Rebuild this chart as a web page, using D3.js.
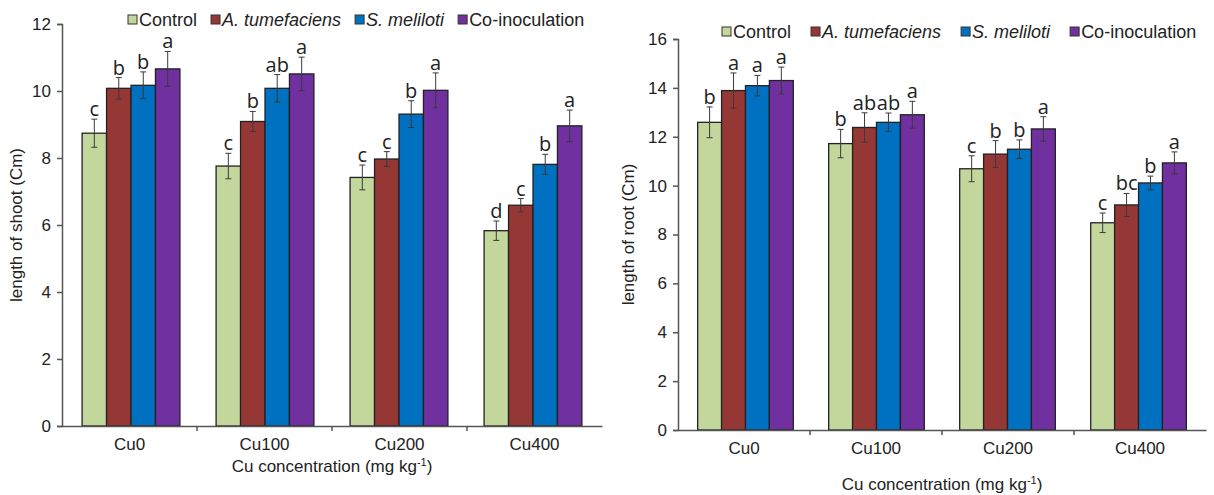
<!DOCTYPE html>
<html>
<head>
<meta charset="utf-8">
<script src="https://cdn.jsdelivr.net/npm/d3@7"></script>
<style>
  body { margin: 0; background: #fff; }
  text { font-family: "Liberation Sans", Arial, sans-serif; fill: #222; }
  .sig { font-family: "Open Sans", "Noto Sans", sans-serif; }
</style>
</head>
<body>
<svg id="chart" width="1214" height="495"></svg>
<script>
  var groups = ["Cu0", "Cu100", "Cu200", "Cu400"];
  var seriesNames = ["Control", "A. tumefaciens", "S. meliloti", "Co-inoculation"];
  var seriesItalic = [false, true, true, false];
  var colors = ["#c3d69b", "#953735", "#0070c0", "#7030a0"];

  // shoot length (left)
  var shootControl = [8.74, 7.76, 7.42, 5.83];
  var shootAtum    = [10.08, 9.09, 7.97, 6.59];
  var shootSmel    = [10.17, 10.08, 9.31, 7.81];
  var shootCo      = [10.66, 10.51, 10.02, 8.96];
  var shootControlErr = [0.42, 0.38, 0.37, 0.29];
  var shootAtumErr    = [0.32, 0.30, 0.22, 0.20];
  var shootSmelErr    = [0.40, 0.41, 0.40, 0.30];
  var shootCoErr      = [0.52, 0.50, 0.52, 0.47];
  var shootControlSig = ["c", "c", "c", "d"];
  var shootAtumSig    = ["b", "b", "c", "c"];
  var shootSmelSig    = ["b", "ab", "b", "b"];
  var shootCoSig      = ["a", "a", "a", "a"];
  var shootTicks = [0, 2, 4, 6, 8, 10, 12];

  // root length (right)
  var rootControl = [12.59, 11.72, 10.69, 8.48];
  var rootAtum    = [13.89, 12.38, 11.29, 9.21];
  var rootSmel    = [14.09, 12.59, 11.49, 10.11];
  var rootCo      = [14.30, 12.90, 12.32, 10.93];
  var rootControlErr = [0.63, 0.58, 0.53, 0.40];
  var rootAtumErr    = [0.72, 0.60, 0.55, 0.47];
  var rootSmelErr    = [0.42, 0.38, 0.38, 0.28];
  var rootCoErr      = [0.55, 0.55, 0.50, 0.45];
  var rootControlSig = ["b", "b", "c", "c"];
  var rootAtumSig    = ["a", "ab", "b", "bc"];
  var rootSmelSig    = ["a", "ab", "b", "b"];
  var rootCoSig      = ["a", "a", "a", "a"];
  var rootTicks = [0, 2, 4, 6, 8, 10, 12, 14, 16];

  var svg = d3.select("#chart");

  function buildRows(vals, errs, sigs) {
    var rows = [];
    groups.forEach(function(g, gi) {
      seriesNames.forEach(function(s, si) {
        rows.push({ group: g, series: s, si: si, value: vals[si][gi], err: errs[si][gi], sig: sigs[si][gi] });
      });
    });
    return rows;
  }

  function drawPanel(p) {
    var g = svg.append("g");
    var x = d3.scaleBand().domain(groups).range([p.left, p.right]).paddingInner(0.27).paddingOuter(0.15);
    var xOuter = d3.scaleBand().domain(groups).range([p.left, p.right]);
    var xs = d3.scaleBand().domain(seriesNames).range([0, x.bandwidth()]);
    var y = d3.scaleLinear().domain([0, p.max]).range([p.bottom, p.top]);

    var rows = buildRows(p.vals, p.errs, p.sigs);

    g.selectAll("rect.bar").data(rows).enter().append("rect")
      .attr("class", "bar")
      .attr("x", function(d) { return x(d.group) + xs(d.series); })
      .attr("y", function(d) { return y(d.value); })
      .attr("width", xs.bandwidth())
      .attr("height", function(d) { return y(0) - y(d.value); })
      .attr("fill", function(d) { return colors[d.si]; })
      .attr("stroke", "#222")
      .attr("stroke-width", 1.3);

    // error bars
    var eb = g.selectAll("g.err").data(rows).enter().append("g").attr("class", "err")
      .attr("stroke", "#3a3a3a").attr("stroke-width", 1);
    eb.append("line")
      .attr("x1", function(d) { return x(d.group) + xs(d.series) + xs.bandwidth() / 2; })
      .attr("x2", function(d) { return x(d.group) + xs(d.series) + xs.bandwidth() / 2; })
      .attr("y1", function(d) { return y(d.value - d.err); })
      .attr("y2", function(d) { return y(d.value + d.err); });
    [1, -1].forEach(function(sgn) {
      eb.append("line")
        .attr("x1", function(d) { return x(d.group) + xs(d.series) + xs.bandwidth() / 2 - 3; })
        .attr("x2", function(d) { return x(d.group) + xs(d.series) + xs.bandwidth() / 2 + 3; })
        .attr("y1", function(d) { return y(d.value + sgn * d.err); })
        .attr("y2", function(d) { return y(d.value + sgn * d.err); });
    });

    g.selectAll("text.sig").data(rows).enter().append("text")
      .attr("class", "sig")
      .attr("x", function(d) { return x(d.group) + xs(d.series) + xs.bandwidth() / 2; })
      .attr("y", function(d) { return y(d.value + d.err) - 3; })
      .attr("text-anchor", "middle")
      .style("font-size", "20px")
      .text(function(d) { return d.sig; });

    // axes
    var yAxis = d3.axisLeft(y).tickValues(p.ticks).tickSize(5).tickPadding(6);
    var ya = g.append("g").attr("transform", "translate(" + p.left + ",0)").call(yAxis);
    ya.selectAll("text").style("font-size", "17px").attr("fill", "#222");
    ya.selectAll("line, path").attr("stroke", "#555").attr("stroke-width", 1.5);

    var xa = g.append("g").attr("transform", "translate(0," + p.bottom + ")")
      .call(d3.axisBottom(xOuter).tickSize(0).tickSizeOuter(0).tickPadding(12));
    xa.selectAll("text").style("font-size", "17px").attr("fill", "#222");
    xa.select(".domain").attr("stroke", "#555").attr("stroke-width", 1.5);
    xa.selectAll("line.bnd").data(groups.slice(1)).enter().append("line")
      .attr("class", "bnd")
      .attr("x1", function(d) { return xOuter(d); })
      .attr("x2", function(d) { return xOuter(d); })
      .attr("y1", 0).attr("y2", 5)
      .attr("stroke", "#555").attr("stroke-width", 1.5);

    g.append("text")
      .attr("transform", "translate(" + p.yTitleX + "," + ((p.top + p.bottom) / 2) + ") rotate(-90)")
      .attr("text-anchor", "middle")
      .style("font-size", "17px")
      .text(p.yTitle);

    var xt = g.append("text")
      .attr("x", (p.left + p.right) / 2 + p.xTitleDx)
      .attr("y", p.xTitleY)
      .attr("text-anchor", "middle")
      .style("font-size", "17px");
    xt.append("tspan").text("Cu concentration (mg kg");
    xt.append("tspan").attr("dy", -6).style("font-size", "11px").text("-1");
    xt.append("tspan").attr("dy", 6).text(")");

    // legend
    var lx = p.legendX;
    seriesNames.forEach(function(s, si) {
      g.append("rect")
        .attr("x", lx).attr("y", p.legendY - 11)
        .attr("width", 9).attr("height", 9)
        .attr("fill", colors[si]).attr("stroke", "#333").attr("stroke-width", 1);
      var t = g.append("text")
        .attr("x", lx + 11).attr("y", p.legendY)
        .style("font-size", "18px")
        .style("font-style", seriesItalic[si] ? "italic" : "normal")
        .text(s);
      lx += 11 + t.node().getComputedTextLength() + p.legendGap;
    });
  }

  drawPanel({
    left: 62, right: 602, top: 24, bottom: 426, max: 12, ticks: shootTicks,
    vals: [shootControl, shootAtum, shootSmel, shootCo],
    errs: [shootControlErr, shootAtumErr, shootSmelErr, shootCoErr],
    sigs: [shootControlSig, shootAtumSig, shootSmelSig, shootCoSig],
    yTitle: "length of shoot (Cm)", yTitleX: 22,
    xTitleY: 472, xTitleDx: 0,
    legendX: 128, legendY: 26, legendGap: 14
  });

  drawPanel({
    left: 678, right: 1206, top: 39, bottom: 430, max: 16, ticks: rootTicks,
    vals: [rootControl, rootAtum, rootSmel, rootCo],
    errs: [rootControlErr, rootAtumErr, rootSmelErr, rootCoErr],
    sigs: [rootControlSig, rootAtumSig, rootSmelSig, rootCoSig],
    yTitle: "length of root (Cm)", yTitleX: 634,
    xTitleY: 490, xTitleDx: 0,
    legendX: 722, legendY: 38, legendGap: 20
  });
</script>
</body>
</html>
